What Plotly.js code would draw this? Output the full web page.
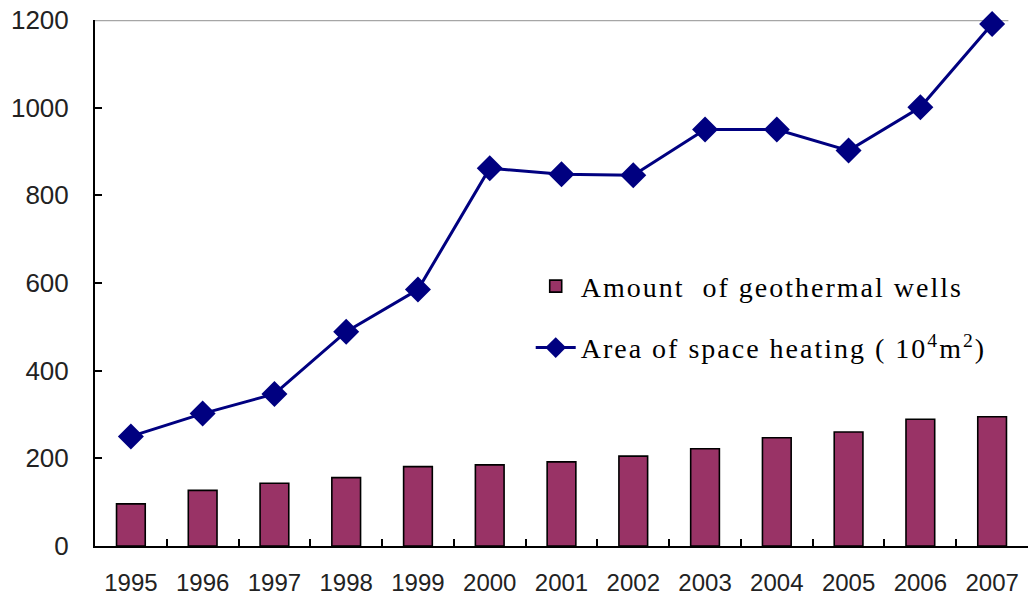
<!DOCTYPE html>
<html>
<head>
<meta charset="utf-8">
<script src="https://cdn.plot.ly/plotly-3.0.1.min.js"></script>
<style>
html,body{margin:0;padding:0;background:#fff;}
#chart{width:1029px;height:597px;}
#chart .legend text.legendtext{letter-spacing:2px;}
#chart .legend .scrollbox{clip-path:none !important;}
</style>
</head>
<body>
<div id="chart"></div>
<script>
const years = ["1995","1996","1997","1998","1999","2000","2001","2002","2003","2004","2005","2006","2007"];
const wells = [96, 127, 143, 156, 181, 185, 192, 205, 222, 247, 260, 289, 295];
const heatingArea = [250, 302, 347, 489, 585, 862, 848, 846, 950, 950, 902, 1001, 1191];
const yTicks = [0, 200, 400, 600, 800, 1000, 1200];
const wellsName = "Amount  of geothermal wells";
const areaName = "Area of space heating ( 10<sup>4</sup>m<sup>2</sup>)";

const traces = [
  {
    type: "bar",
    x: years,
    y: wells,
    name: wellsName,
    legendgroup: "a",
    marker: {color: "#993366", line: {color: "#000000", width: 1.6}},
    width: 0.4
  },
  {
    type: "scatter",
    mode: "lines+markers",
    x: years,
    y: heatingArea,
    name: areaName,
    legendgroup: "b",
    line: {color: "#000080", width: 3},
    marker: {symbol: "diamond", size: 20, color: "#000080"},
    cliponaxis: false
  }
];

const layout = {
  width: 1029,
  height: 597,
  margin: {l: 95, r: 1, t: 20, b: 51, pad: 0},
  paper_bgcolor: "#ffffff",
  plot_bgcolor: "#ffffff",
  showlegend: true,
  legend: {
    x: 0.467, xanchor: "left",
    y: 0.541, yanchor: "top",
    font: {family: "Liberation Serif, Times New Roman, serif", size: 28, color: "#000"},
    bgcolor: "rgba(0,0,0,0)",
    traceorder: "grouped",
    tracegroupgap: 22,
    itemwidth: 40
  },
  xaxis: {
    type: "category",
    range: [-0.5, years.length - 0.5],
    showline: true, linecolor: "#000", linewidth: 2,
    ticks: "inside", tickson: "boundaries", ticklen: 7, tickwidth: 2, tickcolor: "#000",
    showgrid: false, zeroline: false,
    tickfont: {family: "Liberation Sans, Arial, sans-serif", size: 24, color: "#222"},
    ticklabelstandoff: 14,
    fixedrange: true
  },
  yaxis: {
    range: [0, 1200],
    tickvals: yTicks,
    ticktext: yTicks.map(String),
    showline: true, linecolor: "#000", linewidth: 2,
    ticks: "inside", ticklen: 7, tickwidth: 2, tickcolor: "#000",
    showgrid: false, zeroline: false,
    tickfont: {family: "Liberation Sans, Arial, sans-serif", size: 26, color: "#222"},
    ticklabelstandoff: 19,
    fixedrange: true
  },
  shapes: [
    {type: "line", xref: "paper", yref: "y", x0: 0, x1: 0.979, y0: 1200, y1: 1200,
     line: {color: "#a6a6a6", width: 2.5}, layer: "below"}
  ]
};

Plotly.newPlot("chart", traces, layout, {displayModeBar: false, staticPlot: true});
</script>
</body>
</html>
